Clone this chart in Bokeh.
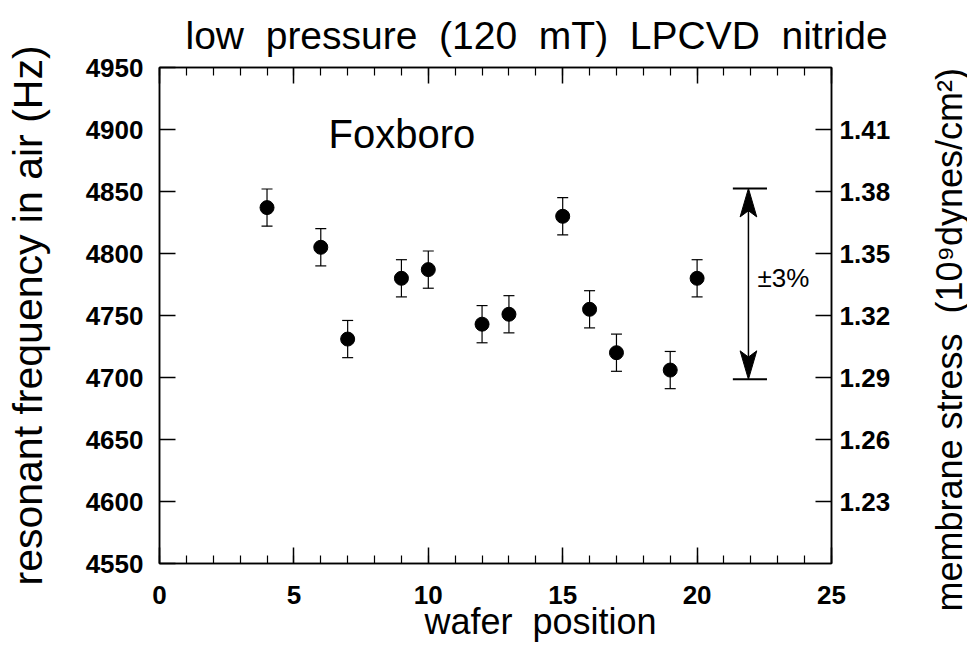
import math
from bokeh.plotting import figure
from bokeh.layouts import row
from bokeh.models import (LinearAxis, Range1d, FixedTicker, PrintfTickFormatter,
                          ColumnDataSource, Whisker, TeeHead, Label, Div)
from bokeh.embed import file_html
from bokeh.resources import INLINE

# ---- data ----
wafer_position = [4, 6, 7, 9, 10, 12, 13, 15, 16, 17, 19, 20]
frequency_hz = [4837, 4805, 4731, 4780, 4787, 4743, 4751, 4830, 4755, 4720, 4706, 4780]
freq_error_hz = [15, 15, 15, 15, 15, 15, 15, 15, 15, 15, 15, 15]

x_ticks = [0, 5, 10, 15, 20, 25]
x_minor_ticks = list(range(0, 26))
y_ticks = [4550, 4600, 4650, 4700, 4750, 4800, 4850, 4900, 4950]
stress_ticks = [1.23, 1.26, 1.29, 1.32, 1.35, 1.38, 1.41]

range_arrow_x = [21.91]
range_arrow_top = [4852.5]
range_arrow_bottom = [4698.5]
range_bar_x = [21.33, 22.6]
range_text = "\u00b13%"
range_text_pos = [22.25, 4780]

NB = "\u00a0"
title_text = f"low{NB}{NB}pressure{NB}{NB}(120{NB}{NB}mT){NB}{NB}LPCVD{NB}{NB}nitride"
label_text = "Foxboro"
label_pos = [6.29, 4896]
x_title = NB * 9 + f"wafer{NB}{NB}position"
y_title = "resonant frequency in air (Hz)"
y2_title = f"membrane stress{NB}{NB}(10\u2079dynes/cm\u00b2)"

FONT = "Liberation Sans"
SIDE_W = 40

p = figure(width=967 - SIDE_W, height=657, output_backend="svg", toolbar_location=None,
           x_range=Range1d(0, 25), y_range=Range1d(4550, 4950),
           min_border_left=159, min_border_right=967 - SIDE_W - 831, min_border_top=66,
           min_border_bottom=94)
p.extra_y_ranges = {"stress": Range1d(1.20, 1.44)}
p.xgrid.visible = False
p.ygrid.visible = False
p.outline_line_color = "black"
p.outline_line_width = 1.5
p.background_fill_color = "white"
p.border_fill_color = "white"

p.title.text = title_text
p.title.text_font = FONT
p.title.text_font_size = "39px"
p.title.text_font_style = "normal"
p.title.text_color = "black"
p.title.align = "left"
p.title.offset = 26
p.title.standoff = 22

# bottom axis
xa = p.xaxis[0]
xa.ticker = FixedTicker(ticks=x_ticks, minor_ticks=x_minor_ticks)
xa.major_tick_in = 16
xa.major_tick_out = 0
xa.minor_tick_in = 8
xa.minor_tick_out = 0
xa.major_label_standoff = 22
xa.axis_label = x_title
xa.axis_label_text_font_size = "36px"
xa.axis_label_standoff = -6

# left axis
ya = p.yaxis[0]
ya.ticker = FixedTicker(ticks=y_ticks, minor_ticks=[])
ya.major_tick_in = 16
ya.major_tick_out = 0
ya.minor_tick_in = 0
ya.minor_tick_out = 0
ya.major_label_standoff = 16
ya.axis_label = y_title
ya.axis_label_text_font_size = "41px"
ya.axis_label_standoff = 32

# top axis (ticks only)
top = LinearAxis(ticker=FixedTicker(ticks=x_ticks, minor_ticks=x_minor_ticks),
                 major_tick_in=16, major_tick_out=0, minor_tick_in=8, minor_tick_out=0,
                 major_label_text_color=None, major_label_text_font_size="1px",
                 major_label_standoff=0)
p.add_layout(top, "above")

# right axis (stress)
right = LinearAxis(y_range_name="stress",
                   ticker=FixedTicker(ticks=stress_ticks, minor_ticks=[]),
                   formatter=PrintfTickFormatter(format="%.2f"),
                   major_tick_in=16, major_tick_out=0, minor_tick_in=0, minor_tick_out=0,
                   major_label_standoff=8)
p.add_layout(right, "right")

for ax in (xa, ya, top, right):
    ax.axis_line_color = "black"
    ax.axis_line_width = 1.5
    ax.major_tick_line_color = "black"
    ax.major_tick_line_width = 1.5
    ax.minor_tick_line_color = "black"
    ax.minor_tick_line_width = 1.2
    ax.axis_label_text_font = FONT
    ax.axis_label_text_font_style = "normal"
    ax.axis_label_text_color = "black"
for ax in (xa, ya, right):
    ax.major_label_text_color = "black"
    ax.major_label_text_font = FONT
    ax.major_label_text_font_size = "26px"
    ax.major_label_text_font_style = "bold"

# data
src = ColumnDataSource(dict(
    x=wafer_position, y=frequency_hz,
    lo=[f - e for f, e in zip(frequency_hz, freq_error_hz)],
    hi=[f + e for f, e in zip(frequency_hz, freq_error_hz)],
))
w = Whisker(source=src, base="x", lower="lo", upper="hi", dimension="height",
            line_color="black", line_width=1.2,
            upper_head=TeeHead(size=11, line_color="black", line_width=1.2),
            lower_head=TeeHead(size=11, line_color="black", line_width=1.2))
p.add_layout(w)
p.scatter("x", "y", source=src, size=14, color="black", marker="circle")

# range indicator: end bars, shaft, narrow arrow heads
HEAD_LEN = 23.0     # Hz
HEAD_NOTCH = 18.0   # Hz
HEAD_HALF_W = 0.31  # x units
ax0 = range_arrow_x[0]
ytop = range_arrow_top[0]
ybot = range_arrow_bottom[0]
p.segment(x0=[range_bar_x[0]] * 2, x1=[range_bar_x[1]] * 2,
          y0=[ytop, ybot], y1=[ytop, ybot], line_color="black", line_width=2)
p.segment(x0=[ax0], x1=[ax0], y0=[ybot + HEAD_NOTCH], y1=[ytop - HEAD_NOTCH],
          line_color="black", line_width=1.5)
p.patches(xs=[[ax0, ax0 - HEAD_HALF_W, ax0, ax0 + HEAD_HALF_W],
              [ax0, ax0 - HEAD_HALF_W, ax0, ax0 + HEAD_HALF_W]],
          ys=[[ytop, ytop - HEAD_LEN, ytop - HEAD_NOTCH, ytop - HEAD_LEN],
              [ybot, ybot + HEAD_LEN, ybot + HEAD_NOTCH, ybot + HEAD_LEN]],
          fill_color="black", line_color="black", line_width=1)
p.add_layout(Label(x=range_text_pos[0], y=range_text_pos[1], text=range_text,
                   text_font=FONT, text_font_size="26px", text_baseline="middle",
                   text_align="left", text_color="black"))

p.add_layout(Label(x=label_pos[0], y=label_pos[1], text=label_text,
                   text_font=FONT, text_font_size="40px", text_baseline="middle",
                   text_align="left", text_color="black"))

# narrow side column carrying the right-hand axis title (reads bottom to top)
side_html = (
    '<div style="height:657px;width:40px;padding-top:13px;padding-right:4px;'
    'box-sizing:border-box;display:flex;align-items:center;justify-content:center;">'
    '<span style="writing-mode:vertical-rl;transform:rotate(180deg);'
    "font-family:'Liberation Sans';font-size:36px;line-height:1;white-space:nowrap;"
    f'color:black;">{y2_title}</span></div>'
)
side = Div(text=side_html, width=SIDE_W, height=657)

layout = row(p, side)
open("out.html", "w").write(file_html(layout, INLINE))
